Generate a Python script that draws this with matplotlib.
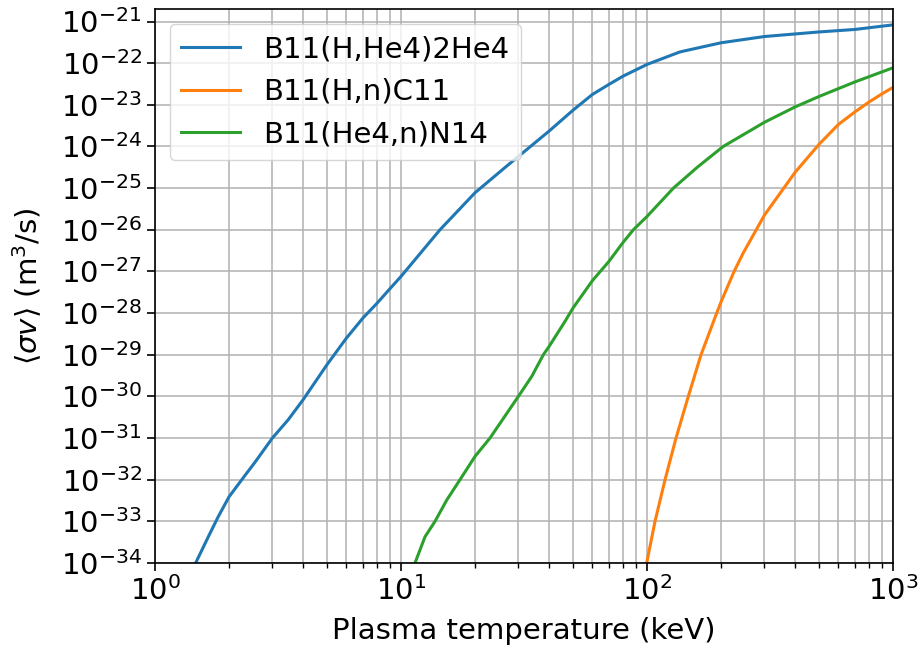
import numpy as np
import matplotlib
matplotlib.use("Agg")
import matplotlib.pyplot as plt
from matplotlib.ticker import LogLocator, NullLocator

# Plasma temperature (keV) and log10(<sigma v>) in m^3/s
T_pB = [1.463, 1.647, 1.81, 2.0, 2.286, 2.55, 3.0, 3.48, 4.0, 5.0, 6.0, 7.0, 8.0, 9.0,
        10.0, 14.4, 20.0, 26.9, 30.0, 40.0, 50.0, 60.0, 70.0, 80.0, 100.0, 136.0,
        200.0, 300.0, 500.0, 700.0, 1000.0]
sv_pB = [-34.0, -33.37, -32.88, -32.41, -31.95, -31.58, -31.0, -30.56, -30.08, -29.24,
         -28.60, -28.12, -27.76, -27.42, -27.12, -26.0, -25.11, -24.47, -24.24, -23.63,
         -23.13, -22.75, -22.51, -22.31, -22.03, -21.73, -21.51, -21.36, -21.25, -21.19,
         -21.08]

T_pn = [99.7, 107.8, 118.4, 131.2, 147.2, 165.8, 192.0, 200.0, 226.0, 246.0, 300.0,
        400.0, 500.0, 600.0, 700.0, 800.0, 900.0, 1000.0]
sv_pn = [-34.0, -33.0, -32.0, -31.0, -30.0, -29.0, -28.0, -27.73, -27.0, -26.56, -25.65,
         -24.62, -23.95, -23.47, -23.17, -22.93, -22.74, -22.58]

T_an = [11.4, 12.52, 13.75, 15.34, 17.37, 20.0, 23.0, 30.0, 34.0, 37.9, 40.0, 46.4,
        50.0, 60.0, 70.0, 80.0, 88.0, 100.0, 128.0, 160.0, 204.0, 300.0, 400.0, 500.0,
        700.0, 1000.0]
sv_an = [-34.0, -33.37, -33.0, -32.49, -32.0, -31.44, -31.0, -30.0, -29.52, -29.0,
         -28.8, -28.2, -27.88, -27.22, -26.76, -26.3, -26.0, -25.68, -25.0, -24.5,
         -24.0, -23.42, -23.05, -22.80, -22.45, -22.11]

labels = ["B11(H,He4)2He4", "B11(H,n)C11", "B11(He4,n)N14"]
xlim = (1.0, 1000.0)
ylim = (1e-34, 2e-21)

fs = 21
fig = plt.figure(figsize=(9.22, 6.54), dpi=100)
ax = fig.add_axes([155/922, 1 - 563/654, (893-155)/922, (563-9)/654])

lw = 2.2
ax.plot(T_pB, 10.0**np.array(sv_pB), color="#1f77b4", lw=lw, label=labels[0])
ax.plot(T_pn, 10.0**np.array(sv_pn), color="#ff7f0e", lw=lw, label=labels[1])
ax.plot(T_an, 10.0**np.array(sv_an), color="#2ca02c", lw=lw, label=labels[2])

ax.set_xscale("log")
ax.set_yscale("log")
ax.set_xlim(*xlim)
ax.set_ylim(*ylim)
ax.yaxis.set_major_locator(LogLocator(base=10, numticks=30))
ax.yaxis.set_minor_locator(NullLocator())

ax.grid(True, which="both", color="#b0b0b0", lw=1.1)
ax.set_axisbelow(True)

ax.tick_params(axis="both", which="major", labelsize=fs, length=6, width=1.2, color="black")
ax.tick_params(axis="both", which="minor", length=3.5, width=1.0)
for s in ax.spines.values():
    s.set_linewidth(1.2)
    s.set_color("black")

ax.set_xlabel("Plasma temperature (keV)", fontsize=fs)
ax.set_ylabel(r"$\langle\sigma v\rangle$ (m$^3$/s)", fontsize=fs)
ax.xaxis.set_label_coords(0.5, -0.098)
ax.yaxis.set_label_coords(-0.150, 0.5)

ax.legend(loc="upper left", fontsize=fs, framealpha=0.8, handlelength=2.0)

fig.savefig("out.png", dpi=100)
